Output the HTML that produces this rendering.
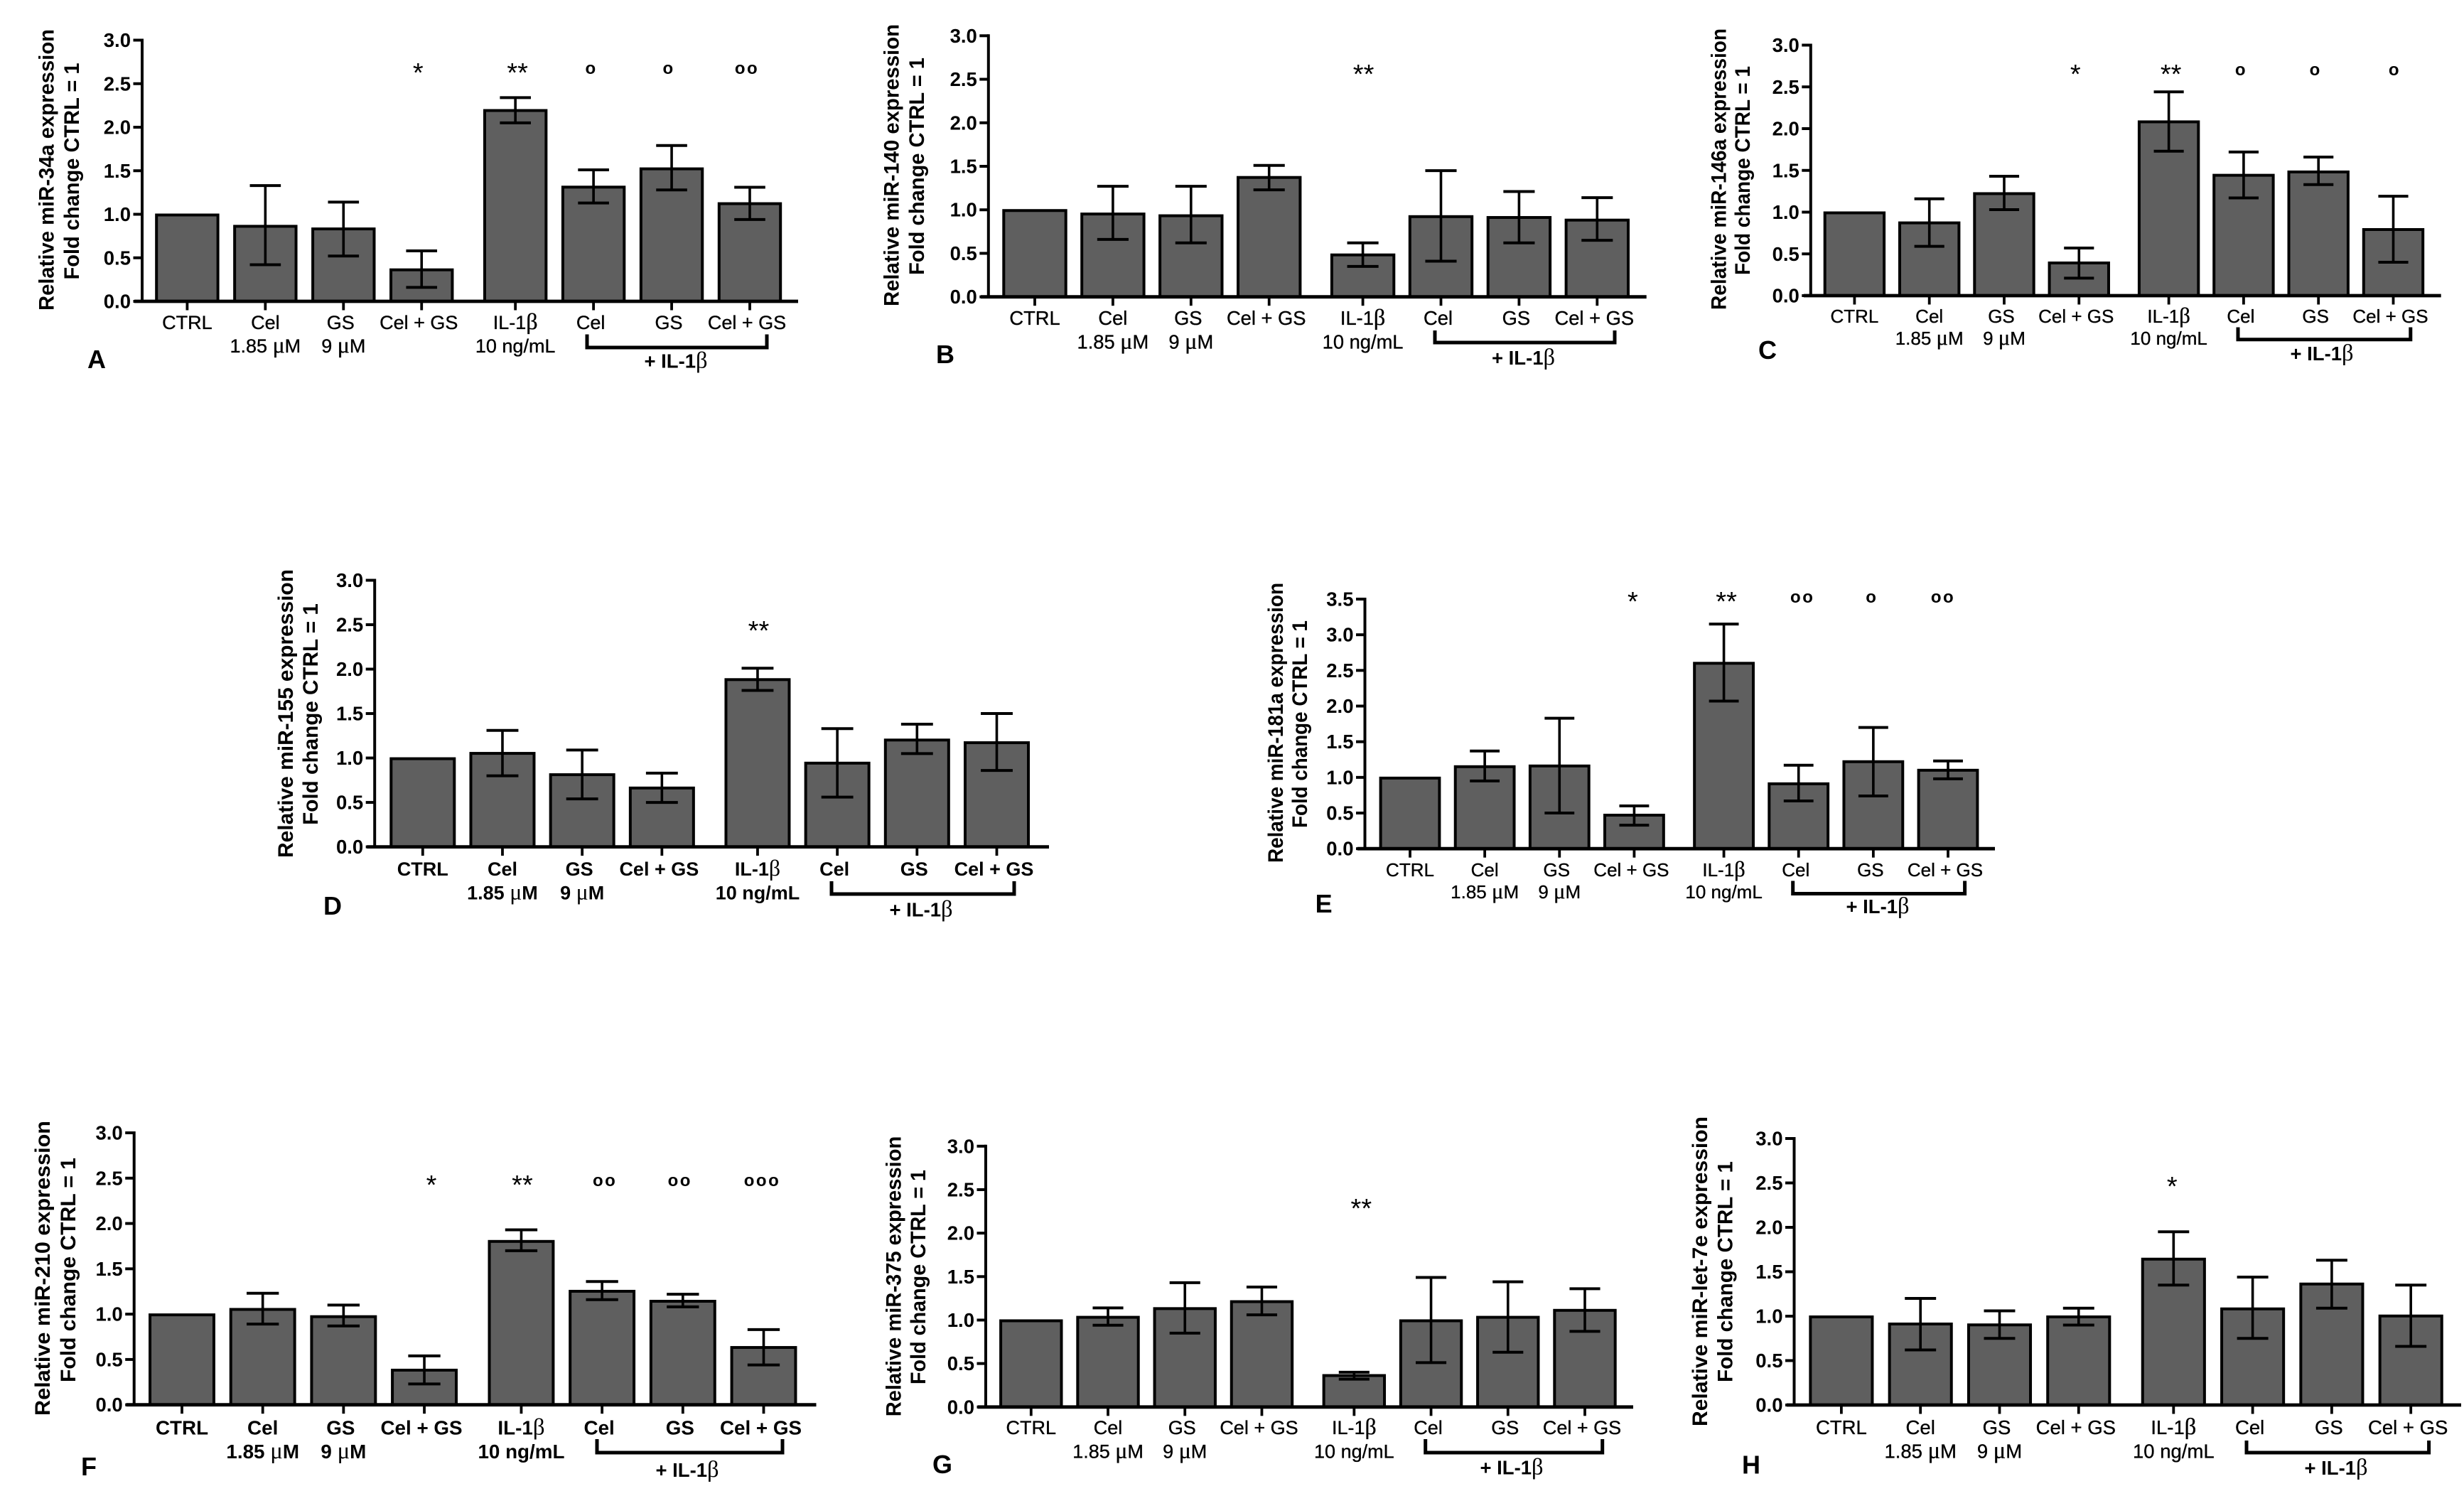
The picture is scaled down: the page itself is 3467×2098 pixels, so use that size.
<!DOCTYPE html>
<html lang="en">
<head>
<meta charset="utf-8">
<title>Relative miRNA expression panels A-H</title>
<style>
  html,body{margin:0;padding:0;background:#fff;}
  svg{display:block;}
  text{font-family:"Liberation Sans",Arial,sans-serif;fill:#000;}
  .yt{font-weight:bold;font-size:30px;text-anchor:middle;}
  .letter{font-weight:bold;font-size:36px;}
  .il{font-weight:bold;font-size:27.5px;text-anchor:middle;}
  .serif{font-family:"Liberation Serif",serif;font-weight:normal;font-size:1.18em;}
  .tick-label{font-weight:bold;font-size:27.5px;text-anchor:end;}
  .bracket{fill:none;stroke:#000;stroke-width:5;}
</style>
</head>
<body>
<svg id="figure" xmlns="http://www.w3.org/2000/svg" width="3467" height="2098" viewBox="0 0 3467 2098">
  <rect width="3467" height="2098" fill="#fff"/>

  <g id="panel-a">
    <text class="yt" transform="translate(75.5,239) rotate(-90)" textLength="396" lengthAdjust="spacingAndGlyphs">Relative miR-34a expression</text>
    <text class="yt" transform="translate(111,241) rotate(-90)" textLength="305" lengthAdjust="spacingAndGlyphs">Fold change CTRL = 1</text>
    <text class="letter" x="123" y="518">A</text>
    <path class="bracket" d="M826 470.5V489H1079V470.5"/>
    <text class="il" x="951" y="517.7">+ IL-1<tspan class="serif">β</tspan></text>
  </g>

  <g id="panel-b">
    <text class="yt" transform="translate(1264.5,232.5) rotate(-90)" textLength="397" lengthAdjust="spacingAndGlyphs">Relative miR-140 expression</text>
    <text class="yt" transform="translate(1300,234) rotate(-90)" textLength="306" lengthAdjust="spacingAndGlyphs">Fold change CTRL = 1</text>
    <text class="letter" x="1317" y="511">B</text>
    <path class="bracket" d="M2019 465V482H2272V465"/>
    <text class="il" x="2143.5" y="513">+ IL-1<tspan class="serif">β</tspan></text>
  </g>

  <g id="panel-c">
    <text class="yt" transform="translate(2428.5,238) rotate(-90)" textLength="396" lengthAdjust="spacingAndGlyphs">Relative miR-146a expression</text>
    <text class="yt" transform="translate(2462,240) rotate(-90)" textLength="294" lengthAdjust="spacingAndGlyphs">Fold change CTRL = 1</text>
    <text class="letter" x="2474" y="505">C</text>
    <path class="bracket" d="M3149 460.5V477.7H3391.8V460.5"/>
    <text class="il" x="3267" y="507">+ IL-1<tspan class="serif">β</tspan></text>
  </g>

  <g id="panel-d">
    <text class="yt" transform="translate(412,1004) rotate(-90)" textLength="406" lengthAdjust="spacingAndGlyphs">Relative miR-155 expression</text>
    <text class="yt" transform="translate(447,1005) rotate(-90)" textLength="311.7" lengthAdjust="spacingAndGlyphs">Fold change CTRL = 1</text>
    <text class="letter" x="455" y="1287">D</text>
    <path class="bracket" d="M1170 1240V1258H1427V1240"/>
    <text class="il" x="1296" y="1289.7">+ IL-1<tspan class="serif">β</tspan></text>
  </g>

  <g id="panel-e">
    <text class="yt" transform="translate(1805,1017) rotate(-90)" textLength="394" lengthAdjust="spacingAndGlyphs">Relative miR-181a expression</text>
    <text class="yt" transform="translate(1839,1019) rotate(-90)" textLength="292" lengthAdjust="spacingAndGlyphs">Fold change CTRL = 1</text>
    <text class="letter" x="1850.6" y="1284">E</text>
    <path class="bracket" d="M2522.7 1239.5V1257.5H2764.6V1239.5"/>
    <text class="il" x="2642" y="1285">+ IL-1<tspan class="serif">β</tspan></text>
  </g>

  <g id="panel-f">
    <text class="yt" transform="translate(70,1784.5) rotate(-90)" textLength="415" lengthAdjust="spacingAndGlyphs">Relative miR-210 expression</text>
    <text class="yt" transform="translate(106,1787) rotate(-90)" textLength="316" lengthAdjust="spacingAndGlyphs">Fold change CTRL = 1</text>
    <text class="letter" x="114" y="2076">F</text>
    <path class="bracket" d="M840 2025V2044H1101V2025"/>
    <text class="il" x="967" y="2078">+ IL-1<tspan class="serif">β</tspan></text>
  </g>

  <g id="panel-g">
    <text class="yt" transform="translate(1267.7,1796) rotate(-90)" textLength="394.6" lengthAdjust="spacingAndGlyphs">Relative miR-375 expression</text>
    <text class="yt" transform="translate(1302,1797) rotate(-90)" textLength="302" lengthAdjust="spacingAndGlyphs">Fold change CTRL = 1</text>
    <text class="letter" x="1312" y="2073">G</text>
    <path class="bracket" d="M2005.7 2025V2044H2254.7V2025"/>
    <text class="il" x="2127" y="2074.4">+ IL-1<tspan class="serif">β</tspan></text>
  </g>

  <g id="panel-h">
    <text class="yt" transform="translate(2402,1789) rotate(-90)" textLength="436" lengthAdjust="spacingAndGlyphs">Relative miR-let-7e expression</text>
    <text class="yt" transform="translate(2437.7,1789.5) rotate(-90)" textLength="311" lengthAdjust="spacingAndGlyphs">Fold change CTRL = 1</text>
    <text class="letter" x="2451" y="2073.5">H</text>
    <path class="bracket" d="M3161 2027V2044H3417.6V2027"/>
    <text class="il" x="3287" y="2075">+ IL-1<tspan class="serif">β</tspan></text>
  </g>
</svg>

<script>
// Shared categories and tick labels
const categoryLine1 = ['CTRL', 'Cel', 'GS', 'Cel + GS', 'IL-1β', 'Cel', 'GS', 'Cel + GS'];
const categoryLine2 = ['', '1.85 μM', '9 μM', '', '10 ng/mL', '', '', ''];
const ticksStandard = ['0.0', '0.5', '1.0', '1.5', '2.0', '2.5', '3.0'];
const ticksExtended = ['0.0', '0.5', '1.0', '1.5', '2.0', '2.5', '3.0', '3.5'];

// Panel A: miR-34a
const meansA = [1.0, 0.87, 0.84, 0.37, 2.2, 1.32, 1.53, 1.13];
const errHighA = [null, 1.33, 1.14, 0.58, 2.34, 1.51, 1.79, 1.31];
const errLowA = [null, 0.42, 0.52, 0.16, 2.05, 1.13, 1.28, 0.94];
const sigA = ['', '', '', '*', '**', 'o', 'o', 'oo'];

// Panel B: miR-140
const meansB = [1.0, 0.96, 0.94, 1.38, 0.49, 0.93, 0.92, 0.89];
const errHighB = [null, 1.27, 1.27, 1.51, 0.62, 1.45, 1.21, 1.14];
const errLowB = [null, 0.66, 0.62, 1.23, 0.35, 0.41, 0.62, 0.65];
const sigB = ['', '', '', '', '**', '', '', ''];

// Panel C: miR-146a
const meansC = [1.0, 0.88, 1.23, 0.4, 2.09, 1.45, 1.49, 0.8];
const errHighC = [null, 1.16, 1.43, 0.57, 2.44, 1.72, 1.66, 1.19];
const errLowC = [null, 0.59, 1.03, 0.21, 1.73, 1.17, 1.33, 0.4];
const sigC = ['', '', '', '*', '**', 'o', 'o', 'o'];

// Panel D: miR-155
const meansD = [1.0, 1.06, 0.82, 0.67, 1.89, 0.95, 1.21, 1.18];
const errHighD = [null, 1.31, 1.09, 0.83, 2.01, 1.33, 1.38, 1.5];
const errLowD = [null, 0.8, 0.54, 0.5, 1.76, 0.56, 1.05, 0.86];
const sigD = ['', '', '', '', '**', '', '', ''];

// Panel E: miR-181a
const meansE = [1.0, 1.16, 1.17, 0.48, 2.61, 0.92, 1.23, 1.11];
const errHighE = [null, 1.37, 1.83, 0.6, 3.15, 1.17, 1.7, 1.23];
const errLowE = [null, 0.95, 0.5, 0.33, 2.07, 0.67, 0.74, 0.98];
const sigE = ['', '', '', '*', '**', 'oo', 'o', 'oo'];

// Panel F: miR-210
const meansF = [1.0, 1.06, 0.98, 0.39, 1.81, 1.26, 1.15, 0.64];
const errHighF = [null, 1.23, 1.1, 0.54, 1.93, 1.36, 1.22, 0.83];
const errLowF = [null, 0.89, 0.87, 0.23, 1.7, 1.16, 1.08, 0.44];
const sigF = ['', '', '', '*', '**', 'oo', 'oo', 'ooo'];

// Panel G: miR-375
const meansG = [1.0, 1.04, 1.14, 1.22, 0.37, 1.0, 1.04, 1.12];
const errHighG = [null, 1.14, 1.43, 1.38, 0.4, 1.49, 1.44, 1.36];
const errLowG = [null, 0.94, 0.85, 1.06, 0.32, 0.51, 0.63, 0.87];
const sigG = ['', '', '', '', '**', '', '', ''];

// Panel H: miR-let-7e
const meansH = [1.0, 0.92, 0.91, 1.0, 1.65, 1.09, 1.37, 1.01];
const errHighH = [null, 1.2, 1.06, 1.09, 1.95, 1.44, 1.63, 1.35];
const errLowH = [null, 0.62, 0.75, 0.9, 1.35, 0.75, 1.09, 0.66];
const sigH = ['', '', '', '', '*', '', '', ''];

// Layout of each panel (geometry only, values come from the arrays above)
const panels = [
  {id:'a', means:meansA, high:errHighA, low:errLowA, sig:sigA, ticks:ticksStandard,
   firstX:263.4, lastX:1055, barW:89, axisX:200, yTop:56.5, yZero:424, left:189, right:1123,
   lab1:39, lab2:72, size:27, heavy:false, sigY:97, sigDx:[0,0,0,-5,3,-3,-4,-4]},
  {id:'b', means:meansB, high:errHighB, low:errLowB, sig:sigB, ticks:ticksStandard,
   firstX:1456, lastX:2247.3, barW:90, axisX:1390.8, yTop:50.3, yZero:417.7, left:1380, right:2316.7,
   lab1:39.3, lab2:73, size:27.3, heavy:false, sigY:99, sigDx:[0,0,0,0,1,0,0,0]},
  {id:'c', means:meansC, high:errHighC, low:errLowC, sig:sigC, ticks:ticksStandard,
   firstX:2609.4, lastX:3367.5, barW:86, axisX:2547.8, yTop:63.5, yZero:416, left:2538, right:3434.7,
   lab1:38, lab2:69, size:26, heavy:false, sigY:99, sigDx:[0,0,0,-5,3,-3.5,-4,2]},
  {id:'d', means:meansD, high:errHighD, low:errLowD, sig:sigD, ticks:ticksStandard,
   firstX:594.8, lastX:1402.5, barW:91.6, axisX:527.2, yTop:816.5, yZero:1191.6, left:516.3, right:1476,
   lab1:40.6, lab2:74, size:27, heavy:true, sigY:882, sigDx:[0,0,0,0,1.5,0,0,0]},
  {id:'e', means:meansE, high:errHighE, low:errLowE, sig:sigE, ticks:ticksExtended,
   firstX:1984, lastX:2741, barW:85.4, axisX:1920.5, yTop:843, yZero:1194.2, left:1910, right:2807,
   lab1:39, lab2:70, size:26, heavy:false, sigY:841, sigDx:[0,0,0,-2,3.5,5.5,-2,-7]},
  {id:'f', means:meansF, high:errHighF, low:errLowF, sig:sigF, ticks:ticksStandard,
   firstX:256, lastX:1074.5, barW:92.5, axisX:188.7, yTop:1594, yZero:1976.7, left:177.6, right:1148.5,
   lab1:41.6, lab2:75.5, size:27.8, heavy:true, sigY:1662, sigDx:[0,0,0,10,1.5,4,-4,-2]},
  {id:'g', means:meansG, high:errHighG, low:errLowG, sig:sigG, ticks:ticksStandard,
   firstX:1450.8, lastX:2230, barW:88, axisX:1387, yTop:1612.8, yZero:1979.8, left:1375.7, right:2298,
   lab1:38, lab2:71.5, size:27, heavy:false, sigY:1695, sigDx:[0,0,0,0,10,0,0,0]},
  {id:'h', means:meansH, high:errHighH, low:errLowH, sig:sigH, ticks:ticksStandard,
   firstX:2590.9, lastX:3392.2, barW:89.7, axisX:2524.5, yTop:1602, yZero:1977, left:2514, right:3463,
   lab1:41, lab2:74.5, size:27.5, heavy:false, sigY:1663.6, sigDx:[0,0,0,0,-2,0,0,0]}
];

const SVG_NS = 'http://www.w3.org/2000/svg';
const GROUP_GAP = 0.2;      // extra slot between the 4th and 5th bars
const GREEK = /([βμ])/;

function line(parent, x1, y1, x2, y2, width) {
  const el = document.createElementNS(SVG_NS, 'line');
  el.setAttribute('x1', x1);
  el.setAttribute('y1', y1);
  el.setAttribute('x2', x2);
  el.setAttribute('y2', y2);
  el.setAttribute('stroke', '#000');
  el.setAttribute('stroke-width', width);
  parent.appendChild(el);
  return el;
}

function fillLabel(el, str) {
  str.split(GREEK).forEach(function (part) {
    if (!part) return;
    if (GREEK.test(part)) {
      const sp = document.createElementNS(SVG_NS, 'tspan');
      sp.setAttribute('class', 'serif');
      sp.textContent = part;
      el.appendChild(sp);
    } else {
      el.appendChild(document.createTextNode(part));
    }
  });
}

panels.forEach(function (p) {
  const root = document.getElementById('panel-' + p.id);
  const slotCount = p.means.length - 1 + GROUP_GAP;
  const step = (p.lastX - p.firstX) / slotCount;
  const axisMax = parseFloat(p.ticks[p.ticks.length - 1]);
  const xScale = function (i) { return p.firstX + step * (i + (i >= 4 ? GROUP_GAP : 0)); };
  const yScale = function (v) { return p.yZero - v * (p.yZero - p.yTop) / axisMax; };
  const capW = p.barW * 0.49;

  // Bars
  p.means.forEach(function (v, i) {
    const bar = document.createElementNS(SVG_NS, 'rect');
    
    
    bar.setAttribute('x', xScale(i) - p.barW / 2 + 1.3);
    bar.setAttribute('y', yScale(v) + 1);
    bar.setAttribute('width', p.barW - 2.6);
    bar.setAttribute('height', Math.max(0, yScale(0) - yScale(v) - 1));
    bar.setAttribute('fill', '#5f5f5f');
    bar.setAttribute('stroke', '#000');
    bar.setAttribute('stroke-width', 4);
    root.appendChild(bar);
  });

  // Error bars
  p.means.forEach(function (v, i) {
    if (p.high[i] === null || p.low[i] === null) return;
    const g = document.createElementNS(SVG_NS, 'g');
    
    
    const cx = xScale(i);
    line(g, cx, yScale(p.high[i]), cx, yScale(p.low[i]), 3.6);
    line(g, cx - capW / 2, yScale(p.high[i]), cx + capW / 2, yScale(p.high[i]), 4);
    line(g, cx - capW / 2, yScale(p.low[i]), cx + capW / 2, yScale(p.low[i]), 4);
    root.appendChild(g);
  });

  // Y axis
  const yAxis = document.createElementNS(SVG_NS, 'g');
  
  
  line(yAxis, p.axisX, p.yTop - 2, p.axisX, p.yZero + 2, 4);
  p.ticks.forEach(function (t) {
    const yy = yScale(parseFloat(t));
    line(yAxis, p.axisX - 12.5, yy, p.axisX, yy, 4);
    const lab = document.createElementNS(SVG_NS, 'text');
    
    
    lab.setAttribute('class', 'tick-label');
    lab.setAttribute('x', p.axisX - 16);
    lab.setAttribute('y', yy + 9.5);
    lab.textContent = t;
    yAxis.appendChild(lab);
  });
  root.appendChild(yAxis);

  // X axis
  const xAxis = document.createElementNS(SVG_NS, 'g');
  
  
  line(xAxis, p.left, p.yZero, p.right, p.yZero, 4.8);
  p.means.forEach(function (v, i) {
    const cx = xScale(i);
    line(xAxis, cx, p.yZero, cx, p.yZero + 12.5, 3.8);
    const labelDx = (i === 2 || i === 3 || i > 4) ? -4 : 0;
    const l1 = document.createElementNS(SVG_NS, 'text');
    
    
    l1.setAttribute('text-anchor', 'middle');
    l1.setAttribute('x', cx + labelDx);
    l1.setAttribute('y', p.yZero + p.lab1);
    l1.setAttribute('font-size', p.size);
    if (p.heavy) {
      l1.setAttribute('font-weight', 'bold');
    } else {
      l1.setAttribute('stroke', '#000');
      l1.setAttribute('stroke-width', '0.35');
    }
    fillLabel(l1, categoryLine1[i]);
    xAxis.appendChild(l1);
    if (categoryLine2[i]) {
      const l2 = document.createElementNS(SVG_NS, 'text');
      
      
      l2.setAttribute('text-anchor', 'middle');
      l2.setAttribute('x', cx);
      l2.setAttribute('y', p.yZero + p.lab2);
      l2.setAttribute('font-size', p.size);
      if (p.heavy) {
        l2.setAttribute('font-weight', 'bold');
      } else {
        l2.setAttribute('stroke', '#000');
        l2.setAttribute('stroke-width', '0.35');
      }
      fillLabel(l2, categoryLine2[i]);
      xAxis.appendChild(l2);
    }
  });
  root.appendChild(xAxis);

  // Significance marks
  p.sig.forEach(function (s, i) {
    if (!s) return;
    const isStar = s.charAt(0) === '*';
    const fs = isStar ? 38 : 24;
    const m = document.createElementNS(SVG_NS, 'text');
    
    
    m.setAttribute('text-anchor', 'middle');
    m.setAttribute('x', xScale(i) + p.sigDx[i]);
    m.setAttribute('y', p.sigY + (isStar ? 0.57 * fs - 3.5 : 0.26 * fs + 1));
    m.setAttribute('font-size', fs);
    if (!isStar) {
      m.setAttribute('font-weight', 'bold');
      m.setAttribute('letter-spacing', '2.5');
    }
    m.textContent = s;
    root.appendChild(m);
  });
});
</script>
</body>
</html>
